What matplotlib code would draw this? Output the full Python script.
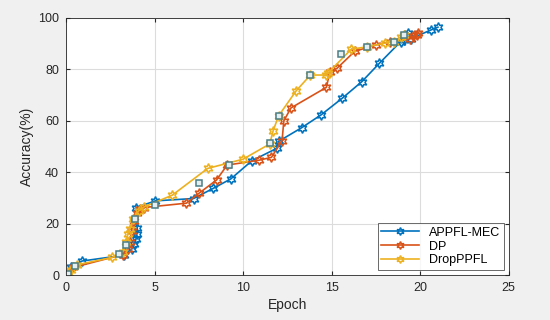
import matplotlib
matplotlib.use('Agg')
import matplotlib.pyplot as plt

plt.rcParams.update({
    'font.family': ['Liberation Sans', 'DejaVu Sans'],
    'font.size': 9,
})

# Data
appfl_x = [0.1, 0.3, 0.9, 3.3, 3.7, 3.85, 3.95, 4.0, 4.02, 3.96, 5.05, 7.2, 8.3, 9.3,
           10.5, 11.9, 12.0, 13.3, 14.4, 15.6, 16.7, 17.7, 18.9, 19.1, 19.3, 19.5, 20.6, 21.0]
appfl_y = [1, 3, 5.5, 7.8, 10, 12, 14, 16.2, 18.4, 26.3, 28.9, 29.8, 33.7, 37.4,
           44.5, 49.3, 52, 57.3, 62.3, 68.8, 75.2, 82.4, 90.8, 91.5, 94.3, 92, 95.3, 96.4]

dp_x = [0.1, 0.4, 3.2, 3.5, 3.6, 3.7, 3.85, 4.0, 4.2, 4.4, 6.8, 7.5, 8.5, 9.1, 10.9,
        11.6, 12.2, 12.3, 12.7, 14.7, 14.9, 15.3, 16.3, 17.5, 18.3, 19.4, 19.6, 19.8, 19.9]
dp_y = [1, 3, 8, 10, 13, 17, 21, 24, 25.6, 26.3, 28, 31.8, 37, 42.8, 44.7,
        45.8, 52.3, 60, 65, 73, 79, 80.4, 87, 89.5, 90.8, 92, 93, 93.5, 94.3]

drop_x = [0.1, 0.3, 0.6, 2.6, 3.2, 3.4, 3.5, 3.6, 3.8, 4.1, 4.4, 6.0, 8.0, 10.0, 11.5,
          11.7, 12.0, 13.0, 13.8, 14.7, 14.8, 16.1, 17.0, 18.0, 18.5, 18.9, 19.1]
drop_y = [1, 2, 4, 6.9, 9, 13, 16.2, 17.8, 22, 25, 26.5, 31.1, 41.5, 45.1, 51,
          56.2, 61.9, 71.7, 77.8, 77.8, 78.6, 87.8, 88.8, 90.2, 90.8, 92.7, 93.4]

# extra square markers seen on the curves (not in legend)
sq_x = [0.13, 0.5, 3.0, 3.4, 3.9, 5.05, 7.5, 9.2, 11.5, 12.0, 13.8, 15.5, 17.0, 18.5, 19.1]
sq_y = [0.6, 3.6, 8.2, 11.9, 22, 27.2, 36, 42.8, 51.2, 61.9, 77.8, 86, 88.8, 90.8, 93.2]

BLUE = '#0072BD'
ORANGE = '#D95319'
YELLOW = '#EDB120'
STAR = (6, 1, 0)

fig = plt.figure(figsize=(5.5, 3.2), dpi=100, facecolor='#F0F0F0')
ax = fig.add_axes([0.12, 0.14, 0.805, 0.804])
ax.set_facecolor('white')

ax.plot(appfl_x, appfl_y, color=BLUE, lw=1.2, marker=STAR, ms=7,
        mfc='none', mew=1.1, label='APPFL-MEC')
ax.plot(dp_x, dp_y, color=ORANGE, lw=1.2, marker=STAR, ms=7,
        mfc='none', mew=1.1, label='DP')
ax.plot(drop_x, drop_y, color=YELLOW, lw=1.2, marker=STAR, ms=7,
        mfc='none', mew=1.1, label='DropPPFL')
ax.plot(sq_x, sq_y, ls='none', marker='s', ms=5, mfc='#e6eef0',
        mec='#4a7f86', mew=1.1, label='_nolegend_')

ax.set_xlim(0, 25)
ax.set_ylim(0, 100)
ax.set_xticks([0, 5, 10, 15, 20, 25])
ax.set_yticks([0, 20, 40, 60, 80, 100])
ax.grid(True, color='#dcdcdc', lw=0.8)
ax.set_axisbelow(True)
for s in ax.spines.values():
    s.set_color('#262626')
    s.set_linewidth(0.6)
ax.tick_params(direction='in', length=3, color='#262626', labelcolor='#262626',
               top=True, right=True, labeltop=False, labelright=False, pad=5)

ax.set_xlabel('Epoch', fontsize=10, color='#262626', labelpad=3)
ax.set_ylabel('Accuracy(%)', fontsize=10, color='#262626', labelpad=3)

leg = ax.legend(loc='lower right', fontsize=9, frameon=True, fancybox=False,
                edgecolor='#262626', borderaxespad=0.4, handlelength=3,
                borderpad=0.3, labelspacing=0.15, markerscale=0.8)
leg.get_frame().set_linewidth(0.6)

fig.savefig('out.png', dpi=100, facecolor=fig.get_facecolor())
